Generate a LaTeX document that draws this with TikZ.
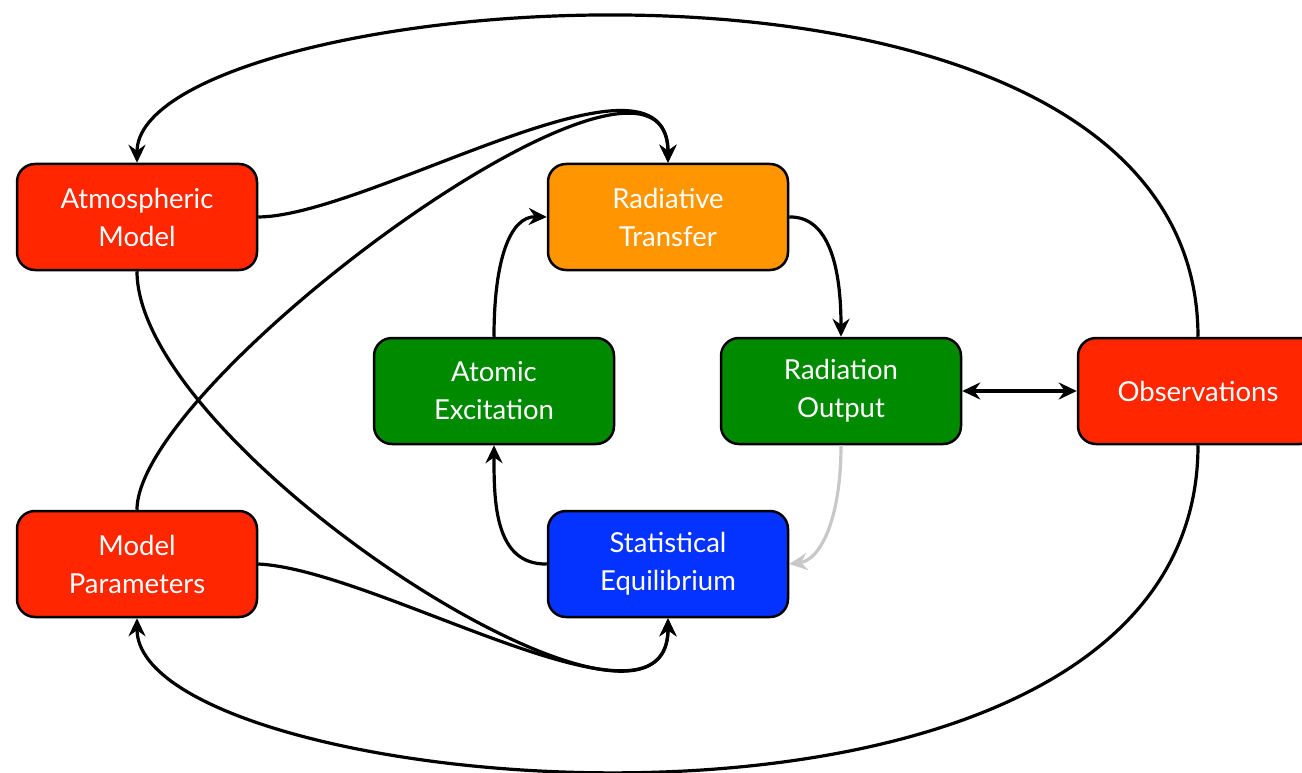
\documentclass[tikz,border=0pt]{standalone}
\usepackage{fontspec}
\setmainfont{Lato}
\usetikzlibrary{arrows.meta}
\definecolor{cred}{HTML}{FF2600}
\definecolor{corange}{HTML}{FF9500}
\definecolor{cgreen}{HTML}{008A00}
\definecolor{cblue}{HTML}{0433FF}
\definecolor{cgray}{HTML}{C8C8C8}
\tikzset{
  box/.style={draw=black, line width=2.5pt, rounded corners=18pt, minimum width=240pt, minimum height=106pt,
    align=center, text=white, font=\fontsize{27.5}{38}\selectfont, inner sep=0pt},
  conn/.style={line width=3.2pt, -{Stealth[length=18pt,width=17pt,inset=6pt]}},
  conn2/.style={line width=3.2pt, {Stealth[length=18pt,width=17pt,inset=6pt]}-{Stealth[length=18pt,width=17pt,inset=6pt]}}
}
\begin{document}
\begin{tikzpicture}[x=1pt,y=-1pt]
\useasboundingbox (0,0) rectangle (1302,773);
\clip (0,0) rectangle (1302,773);
\node[box, fill=cred] (am) at (137,217) {Atmospheric\\Model};
\node[box, fill=corange] (rt) at (668,217) {Radiative\\Transfer};
\node[box, fill=cgreen] (ae) at (494,391) {Atomic\\Excitation};
\node[box, fill=cgreen] (ro) at (841,391) {Radiation\\Output};
\node[box, fill=cred] (ob) at (1198,391) {Observations};
\node[box, fill=cred] (mp) at (137,564) {Model\\Parameters};
\node[box, fill=cblue] (se) at (668,564) {Statistical\\Equilibrium};

\draw[conn] (ob.north) .. controls (1198,-110) and (137,-10) .. (am.north);
\draw[conn] (ob.south) .. controls (1198,900) and (137,800) .. (mp.south);
\draw[conn] (am.east) .. controls (370,216) and (668,30) .. (rt.north);
\draw[conn] (mp.north) .. controls (137,380) and (668,-10) .. (rt.north);
\draw[conn] (am.south) .. controls (137,450) and (668,790) .. (se.south);
\draw[conn] (mp.east) .. controls (380,570) and (668,750) .. (se.south);
\draw[conn] (rt.east) .. controls (830,216) and (841,270) .. (ro.north);
\draw[conn2] (ro.east) -- (ob.west);
\draw[conn, draw=cgray, color=cgray] (ro.south) .. controls (841,520) and (820,560) .. (se.east);
\draw[conn] (se.west) .. controls (494,565) and (494,500) .. (ae.south);
\draw[conn] (ae.north) .. controls (494,260) and (510,216) .. (rt.west);
\end{tikzpicture}
\end{document}
